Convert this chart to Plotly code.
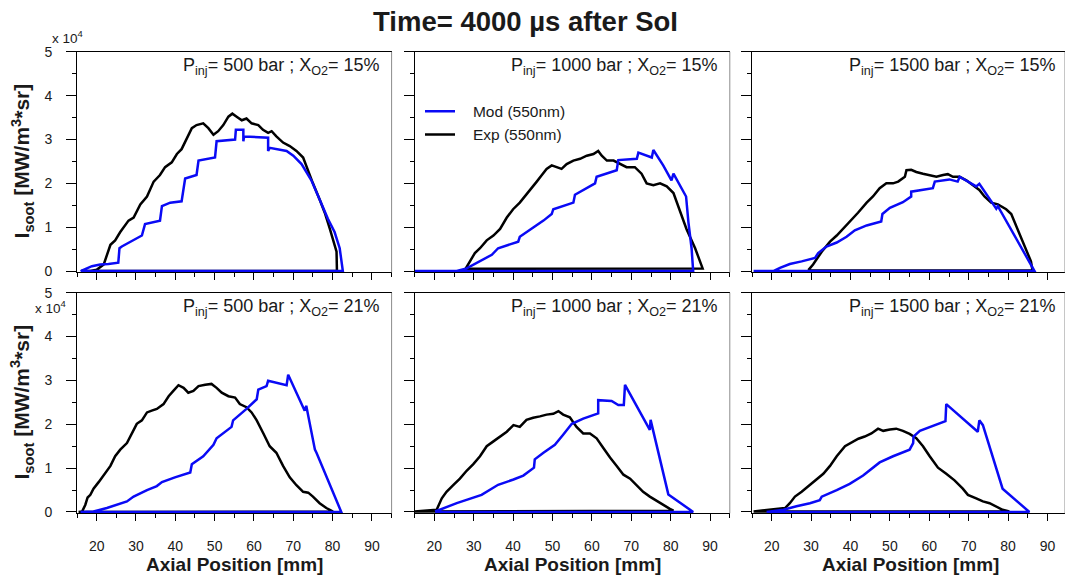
import plotly.graph_objects as go

# ---------------- data (intensity in units of 1e4 MW/m^3*sr) ----------------
panel_titles = [
    "P<sub>inj</sub>= 500 bar ; X<sub>O2</sub>= 15%",
    "P<sub>inj</sub>= 1000 bar ; X<sub>O2</sub>= 15%",
    "P<sub>inj</sub>= 1500 bar ; X<sub>O2</sub>= 15%",
    "P<sub>inj</sub>= 500 bar ; X<sub>O2</sub>= 21%",
    "P<sub>inj</sub>= 1000 bar ; X<sub>O2</sub>= 21%",
    "P<sub>inj</sub>= 1500 bar ; X<sub>O2</sub>= 21%",
]
series_names = ["Exp (550nm)", "Mod (550nm)"]
x_tick_values = [20, 30, 40, 50, 60, 70, 80, 90]
y_tick_values = [0, 1, 2, 3, 4, 5]

# Panel 1: 500 bar, 15 %
exp1_x = [16.0, 18.4, 20.0, 21.8, 23.5, 24.7, 26.0, 28.1, 29.4, 31.1, 32.8, 34.5, 36.1, 37.4, 39.1, 40.4, 41.6, 42.9, 44.2, 45.4, 47.1, 48.4, 49.7, 50.9, 52.2, 53.5, 54.5, 55.6, 56.9, 58.1, 59.4, 61.1, 62.3, 63.6, 64.5, 65.7, 67.4, 69.1, 70.8, 72.5, 73.8, 75.0, 76.7, 78.0, 79.3, 80.5, 81.0, 81.1, 16.0]
exp1_y = [0, 0, 0.03, 0.15, 0.6, 0.7, 0.89, 1.15, 1.22, 1.52, 1.7, 2.04, 2.19, 2.37, 2.48, 2.67, 2.78, 3.04, 3.26, 3.33, 3.37, 3.26, 3.11, 3.19, 3.33, 3.52, 3.59, 3.52, 3.44, 3.48, 3.37, 3.33, 3.22, 3.15, 3.19, 3.07, 2.93, 2.85, 2.74, 2.59, 2.26, 2.0, 1.63, 1.33, 0.96, 0.63, 0.44, 0, 0]
mod1_x = [15.9, 18.8, 20.9, 23.0, 25.5, 25.8, 26.4, 29.4, 31.5, 32.3, 36.1, 36.6, 38.7, 41.6, 42.5, 45.4, 45.9, 50.1, 50.5, 55.2, 55.4, 57.3, 57.3, 57.5, 63.6, 63.6, 64.0, 68.3, 70.0, 72.1, 74.6, 76.7, 78.8, 80.5, 81.8, 82.6, 15.9]
mod1_y = [0, 0.11, 0.15, 0.16, 0.19, 0.52, 0.56, 0.7, 0.81, 1.07, 1.15, 1.48, 1.56, 1.59, 2.11, 2.19, 2.52, 2.59, 2.96, 3.0, 3.22, 3.22, 2.96, 3.07, 3.04, 2.74, 2.81, 2.74, 2.63, 2.44, 2.07, 1.63, 1.19, 0.89, 0.52, 0, 0]

# Panel 2: 1000 bar, 15 %
exp2_x = [27.8, 28.6, 30.3, 31.6, 33.3, 35.0, 36.7, 38.4, 40.0, 41.7, 43.4, 44.7, 46.0, 47.3, 48.5, 49.8, 51.0, 52.3, 53.6, 55.3, 57.0, 58.7, 60.4, 61.6, 62.5, 63.8, 65.5, 67.1, 68.8, 70.9, 72.6, 73.9, 75.6, 77.3, 79.0, 80.7, 82.4, 84.0, 86.2, 88.1, 27.8]
exp2_y = [0.03, 0.15, 0.41, 0.52, 0.7, 0.81, 0.96, 1.22, 1.41, 1.56, 1.74, 1.89, 2.04, 2.19, 2.33, 2.41, 2.37, 2.33, 2.44, 2.52, 2.56, 2.63, 2.67, 2.74, 2.63, 2.52, 2.52, 2.44, 2.37, 2.37, 2.22, 2.0, 1.96, 2.0, 1.93, 1.78, 1.37, 0.96, 0.52, 0.06, 0.05]
mod2_x = [15.1, 25.7, 28.2, 32.0, 34.6, 36.2, 38.8, 41.3, 41.7, 44.7, 47.7, 49.8, 50.2, 55.3, 55.7, 60.8, 61.2, 66.3, 66.7, 71.4, 71.8, 75.2, 75.6, 78.1, 80.2, 80.7, 82.4, 83.9, 84.5, 85.3, 85.7, 15.1]
mod2_y = [0, 0, 0.06, 0.24, 0.37, 0.52, 0.59, 0.67, 0.78, 0.96, 1.15, 1.3, 1.41, 1.56, 1.74, 2.0, 2.15, 2.3, 2.53, 2.56, 2.7, 2.59, 2.76, 2.41, 2.07, 2.22, 1.93, 1.7, 1.11, 0.52, 0, 0]

# Panel 3: 1500 bar, 15 %
exp3_x = [29.3, 30.5, 32.7, 34.8, 36.5, 38.1, 40.3, 41.9, 44.1, 45.7, 47.4, 49.1, 50.8, 52.1, 53.8, 54.2, 55.4, 56.7, 58.4, 60.1, 61.8, 63.5, 64.7, 66.0, 67.7, 69.4, 71.1, 72.7, 74.0, 75.7, 77.4, 79.5, 80.8, 82.4, 84.1, 85.8, 86.2, 29.3]
exp3_y = [0.02, 0.15, 0.44, 0.67, 0.81, 0.96, 1.19, 1.33, 1.56, 1.7, 1.89, 2.0, 2.0, 2.04, 2.15, 2.3, 2.31, 2.26, 2.22, 2.19, 2.15, 2.19, 2.21, 2.15, 2.15, 2.07, 1.96, 1.85, 1.7, 1.56, 1.52, 1.41, 1.3, 0.96, 0.59, 0.22, 0.01, 0.01]
mod3_x = [15.4, 20.4, 22.1, 24.6, 27.6, 31.0, 31.8, 33.9, 36.5, 39.0, 41.1, 44.1, 47.8, 48.1, 50.0, 53.3, 55.4, 55.4, 60.9, 61.4, 65.1, 67.2, 67.7, 71.9, 72.7, 77.0, 77.4, 82.0, 86.7, 15.4]
mod3_y = [0, 0, 0.07, 0.16, 0.22, 0.3, 0.41, 0.56, 0.65, 0.78, 0.93, 1.04, 1.13, 1.3, 1.44, 1.57, 1.7, 1.81, 1.89, 2.04, 2.09, 2.04, 2.15, 1.93, 1.99, 1.42, 1.48, 0.74, 0, 0]

# Panel 4: 500 bar, 21 %
exp4_x = [15.4, 16.3, 17.1, 17.7, 18.4, 19.2, 20.5, 21.8, 23.5, 24.7, 26.0, 27.7, 29.0, 30.2, 31.5, 32.8, 34.0, 35.3, 37.0, 38.3, 39.5, 40.8, 42.1, 43.3, 44.6, 45.9, 47.6, 49.2, 50.5, 51.8, 53.5, 55.2, 56.4, 58.1, 59.4, 60.7, 62.4, 64.0, 65.7, 67.4, 69.1, 70.8, 72.5, 73.8, 75.0, 76.7, 78.4, 80.1, 15.4]
exp4_y = [0, 0.01, 0.16, 0.33, 0.39, 0.53, 0.68, 0.83, 1.05, 1.27, 1.42, 1.57, 1.79, 2.01, 2.09, 2.27, 2.31, 2.35, 2.46, 2.64, 2.76, 2.89, 2.83, 2.72, 2.76, 2.87, 2.9, 2.92, 2.83, 2.72, 2.64, 2.61, 2.46, 2.39, 2.27, 2.09, 1.79, 1.5, 1.35, 1.05, 0.79, 0.61, 0.46, 0.44, 0.35, 0.2, 0.09, 0.01, 0]
mod4_x = [15.9, 19.2, 22.6, 27.7, 29.4, 32.8, 35.3, 36.6, 39.9, 43.8, 44.2, 47.1, 49.7, 50.5, 54.3, 54.7, 58.1, 60.7, 61.1, 63.2, 63.6, 68.3, 68.7, 72.9, 73.3, 75.5, 75.9, 82.2, 15.9]
mod4_y = [0, 0.01, 0.09, 0.24, 0.35, 0.5, 0.59, 0.68, 0.79, 0.9, 1.09, 1.27, 1.53, 1.68, 1.94, 2.09, 2.35, 2.57, 2.79, 2.87, 2.99, 2.89, 3.13, 2.31, 2.42, 1.42, 1.35, 0, 0]

# Panel 5: 1000 bar, 21 %
exp5_x = [15.0, 20.6, 21.9, 23.1, 24.8, 26.5, 28.2, 29.9, 31.6, 33.3, 35.0, 36.7, 38.4, 40.1, 41.7, 43.4, 45.1, 46.8, 48.5, 50.2, 51.5, 52.7, 54.4, 56.1, 57.8, 59.5, 61.2, 62.9, 64.6, 66.3, 68.0, 69.7, 71.4, 73.0, 74.7, 76.4, 78.1, 79.8, 80.7, 15.0]
exp5_y = [0.01, 0.05, 0.31, 0.46, 0.61, 0.76, 0.94, 1.09, 1.27, 1.5, 1.61, 1.72, 1.83, 1.98, 1.94, 2.1, 2.15, 2.18, 2.22, 2.24, 2.3, 2.22, 2.16, 1.94, 1.79, 1.79, 1.68, 1.46, 1.24, 1.05, 0.85, 0.76, 0.61, 0.46, 0.35, 0.25, 0.16, 0.07, 0.03, 0.01]
mod5_x = [20.2, 25.7, 32.0, 36.2, 40.1, 42.6, 45.3, 45.5, 47.7, 50.6, 52.7, 54.9, 57.8, 61.6, 61.6, 65.0, 66.7, 68.1, 68.4, 74.7, 74.9, 75.6, 79.4, 85.7, 20.2]
mod5_y = [0.01, 0.2, 0.39, 0.62, 0.74, 0.83, 1.01, 1.2, 1.35, 1.53, 1.76, 2.01, 2.13, 2.25, 2.55, 2.53, 2.44, 2.44, 2.9, 1.87, 2.1, 1.83, 0.4, 0, 0]

# Panel 6: 1500 bar, 21 %
exp6_x = [15.4, 23.4, 24.6, 25.9, 27.6, 29.7, 31.4, 33.1, 34.8, 36.5, 38.6, 40.3, 42.0, 43.6, 45.3, 47.0, 48.3, 50.0, 51.6, 53.3, 55.0, 56.7, 58.4, 60.1, 62.2, 64.3, 66.4, 68.5, 69.8, 71.9, 73.6, 75.3, 77.0, 78.6, 80.3, 15.4]
exp6_y = [0.01, 0.09, 0.2, 0.35, 0.46, 0.62, 0.74, 0.87, 1.05, 1.27, 1.5, 1.59, 1.67, 1.72, 1.79, 1.9, 1.85, 1.88, 1.9, 1.85, 1.78, 1.68, 1.5, 1.27, 1.01, 0.87, 0.72, 0.53, 0.39, 0.31, 0.24, 0.2, 0.13, 0.05, 0.01, 0.01]
mod6_x = [18.7, 23.0, 26.3, 29.7, 32.2, 32.7, 36.5, 39.8, 43.2, 47.4, 50.8, 55.0, 55.9, 56.0, 57.6, 60.1, 64.1, 64.3, 72.3, 72.7, 73.6, 78.6, 85.4, 18.7]
mod6_y = [0, 0.05, 0.13, 0.2, 0.27, 0.35, 0.5, 0.64, 0.83, 1.13, 1.27, 1.42, 1.57, 1.72, 1.85, 1.94, 2.07, 2.46, 1.83, 2.09, 1.98, 0.53, 0, 0]

exp_series = [(exp1_x, exp1_y), (exp2_x, exp2_y), (exp3_x, exp3_y),
              (exp4_x, exp4_y), (exp5_x, exp5_y), (exp6_x, exp6_y)]
mod_series = [(mod1_x, mod1_y), (mod2_x, mod2_y), (mod3_x, mod3_y),
              (mod4_x, mod4_y), (mod5_x, mod5_y), (mod6_x, mod6_y)]

# ---------------- layout geometry ----------------
W, H = 1065, 581
FONT = "Arial, 'Liberation Sans', Helvetica, sans-serif"
TXT = "#1a1a1a"
BLUE = "#0a0af5"
BLACK = "#000000"
PAD = "\u00a0\u00a0\u00a0"  # gap between legend line and its text

col_px = [(77.0, 391.6), (414.6, 729.8), (752.0, 1065.0)]
x_ranges = [[15, 95], [15, 95], [15, 94.44]]
row_px = [(45.0, 271.35), (292.3, 518.65)]  # top, bottom (incl. small pad below zero)
y_range = [-0.03, 5]

fig = go.Figure()

for i in range(6):
    ax = "" if i == 0 else str(i + 1)
    ex, ey = exp_series[i]
    mx, my = mod_series[i]
    fig.add_trace(go.Scatter(x=ex, y=ey, mode="lines", name=PAD + series_names[0],
                             line=dict(color=BLACK, width=2.5),
                             xaxis="x" + ax, yaxis="y" + ax,
                             showlegend=(i == 1), hoverinfo="skip"))
    fig.add_trace(go.Scatter(x=mx, y=my, mode="lines", name=PAD + series_names[1],
                             line=dict(color=BLUE, width=2.5),
                             xaxis="x" + ax, yaxis="y" + ax,
                             showlegend=(i == 1), hoverinfo="skip"))

layout = dict(
    width=W, height=H, autosize=False,
    margin=dict(l=0, r=0, t=0, b=0),
    paper_bgcolor="white", plot_bgcolor="white",
    font=dict(family=FONT, color=TXT, size=14),
    legend=dict(x=420 / W, y=1 - 89 / H, xanchor="left", yanchor="top",
                bgcolor="rgba(0,0,0,0)", borderwidth=0,
                traceorder="reversed", font=dict(size=15.5, family=FONT, color=TXT)),
    showlegend=True,
)

shapes = []
annotations = []
for i in range(6):
    r, c = divmod(i, 3)
    ax = "" if i == 0 else str(i + 1)
    x0, x1 = col_px[c]
    ytop, ybot = row_px[r]
    layout["xaxis" + ax] = dict(
        domain=[x0 / W, x1 / W], range=x_ranges[c], anchor="y" + ax,
        tickmode="array", tickvals=x_tick_values,
        ticks="outside", ticklen=7, tickwidth=1, tickcolor="black",
        showline=True, linecolor="black", linewidth=1, mirror=True,
        showgrid=False, zeroline=False,
        showticklabels=(r == 1), ticklabelstandoff=13,
        tickfont=dict(size=14, family=FONT, color=TXT),
        minor=dict(dtick=5, tick0=0, ticks="outside", ticklen=4, tickcolor="black", showgrid=False),
    )
    layout["yaxis" + ax] = dict(
        domain=[1 - ybot / H, 1 - ytop / H], range=y_range, anchor="x" + ax,
        tickmode="array", tickvals=y_tick_values,
        ticks="outside", ticklen=10, tickwidth=1, tickcolor="black",
        showline=True, linecolor="black", linewidth=1, mirror=False,
        showgrid=False, zeroline=False,
        showticklabels=(c == 0), ticklabelstandoff=11,
        tickfont=dict(size=14, family=FONT, color=TXT),
        minor=dict(dtick=0.5, tick0=0, ticks="outside", ticklen=4, tickcolor="black", showgrid=False),
    )
    # gray right frame
    shapes.append(dict(type="line", xref="x" + ax + " domain", yref="y" + ax + " domain",
                       x0=1, x1=1, y0=0, y1=1, line=dict(color="#8c8c8c", width=1)))
    # panel caption
    annotations.append(dict(xref="x" + ax, yref="y" + ax,
                            x=(92.7 if c == 2 else 92.5), y=4.67,
                            xanchor="right", yanchor="middle", showarrow=False,
                            text=panel_titles[i],
                            font=dict(size=18, family=FONT, color=TXT)))

# axis titles and main title
for c in range(3):
    x0, x1 = col_px[c]
    xc = (x0 + (x1 if c < 2 else 1068.0)) / 2
    annotations.append(dict(xref="paper", yref="paper", x=xc / W, y=1 - 571 / H,
                            xanchor="center", yanchor="middle", showarrow=False,
                            text="<b>Axial Position [mm]</b>",
                            font=dict(size=19, family=FONT, color=TXT)))
for yc in (157.5, 405.0):
    annotations.append(dict(xref="paper", yref="paper", x=22 / W, y=1 - yc / H,
                            xanchor="center", yanchor="middle", showarrow=False,
                            textangle=-90,
                            text="<b>I<sub>soot</sub> [MW/m<sup>3</sup>*sr]</b>",
                            font=dict(size=21, family=FONT, color=TXT)))
annotations.append(dict(xref="paper", yref="paper", x=525 / W, y=1 - 14 / H,
                        xanchor="center", yanchor="middle", showarrow=False,
                        text="<b>Time= 4000 µs after SoI</b>",
                        font=dict(size=27.5, family=FONT, color=TXT)))
# multiplier labels
annotations.append(dict(xref="paper", yref="paper", x=50 / W, y=1 - 30 / H,
                        xanchor="left", yanchor="middle", showarrow=False,
                        text="x 10<sup>4</sup>", font=dict(size=13.5, family=FONT, color=TXT)))
annotations.append(dict(xref="paper", yref="paper", x=33 / W, y=1 - 307 / H,
                        xanchor="left", yanchor="middle", showarrow=False,
                        text="x 10<sup>4</sup>", font=dict(size=13.5, family=FONT, color=TXT)))

layout["shapes"] = shapes
layout["annotations"] = annotations
fig.update_layout(**layout)

fig.write_html("out.html", config={"displayModeBar": False},
               post_script="document.body.style.margin='0';document.body.style.overflow='hidden';")
